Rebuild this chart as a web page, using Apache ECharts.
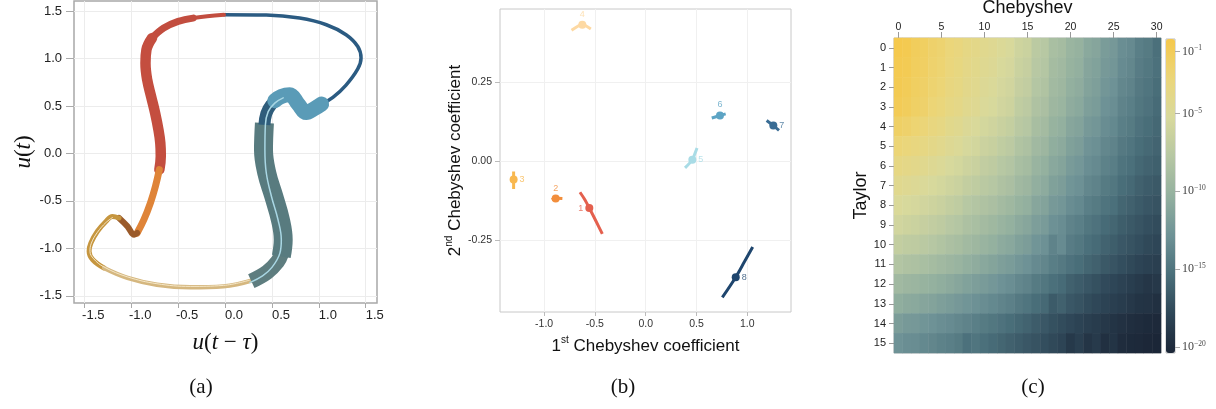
<!DOCTYPE html>
<html>
<head>
<meta charset="utf-8">
<script src="https://cdn.jsdelivr.net/npm/echarts@6/dist/echarts.min.js"></script>
<style>
html, body { margin: 0; padding: 0; background: #fff; }
#chart { width: 1216px; height: 409px; }
</style>
</head>
<body>
<div id="chart"></div>
<script>
// (a) phase portrait, [u(t - tau), u(t)] pairs per coloured stretch
const phaseTopRight = [[1.03, 0.52], [1.15, 0.59], [1.29, 0.72], [1.415, 0.89], [1.45, 1.004], [1.415, 1.126], [1.29, 1.25], [1.08, 1.355], [0.795, 1.425], [0.44, 1.457], [-0.011, 1.46]];
const phaseRedThin = [[-0.011, 1.46], [-0.19, 1.445], [-0.34, 1.425]];
const phaseRedMid = [[-0.34, 1.425], [-0.5, 1.39], [-0.654, 1.32], [-0.778, 1.215]];
const phaseRedThick = [[-0.778, 1.215], [-0.838, 1.09], [-0.848, 0.95], [-0.83, 0.776], [-0.788, 0.60], [-0.745, 0.425], [-0.71, 0.25], [-0.69, 0.109], [-0.685, -0.03], [-0.70, -0.17]];
const phaseOrange = [[-0.70, -0.17], [-0.742, -0.347], [-0.795, -0.52], [-0.866, -0.70], [-0.937, -0.838]];
const phaseBrown = [[-0.937, -0.838], [-0.968, -0.856], [-1.04, -0.768], [-1.13, -0.68]];
const phaseGold = [[-1.13, -0.68], [-1.2, -0.663], [-1.27, -0.716], [-1.36, -0.82], [-1.43, -0.943], [-1.449, -1.03], [-1.41, -1.12], [-1.29, -1.206]];
const phaseTan = [[-1.29, -1.206], [-1.04, -1.31], [-0.726, -1.382], [-0.37, -1.41], [-0.018, -1.40], [0.30, -1.335]];
const phaseTealTail = [[0.28, -1.345], [0.45, -1.25], [0.56, -1.14], [0.60, -1.06]];
const phaseTeal = [[0.60, -1.084], [0.62, -0.908], [0.59, -0.698], [0.52, -0.453], [0.445, -0.206], [0.41, 0.04], [0.42, 0.32]];
const phaseNavy = [[0.42, 0.30], [0.44, 0.42], [0.49, 0.51], [0.55, 0.56]];
const phaseSky = [[0.53, 0.555], [0.60, 0.60], [0.689, 0.618], [0.78, 0.52], [0.866, 0.43], [0.95, 0.47], [1.03, 0.52]];
const phaseTealCore = [[0.265, -1.36], [0.40, -1.29], [0.50, -1.20], [0.585, -1.05], [0.60, -0.908], [0.565, -0.698], [0.495, -0.453], [0.44, -0.206], [0.425, 0.04], [0.43, 0.30], [0.46, 0.44], [0.53, 0.53], [0.62, 0.585]];
const phaseTanCore = [[-1.2, -0.675], [-1.27, -0.728], [-1.36, -0.83], [-1.425, -0.945], [-1.44, -1.03], [-1.40, -1.11], [-1.29, -1.196], [-1.04, -1.30], [-0.726, -1.372], [-0.37, -1.40], [-0.018, -1.39], [0.26, -1.335]];

// (b) Chebyshev coefficient clusters
const coefNames = ['1', '2', '3', '4', '5', '6', '7', '8'];
const coefFirst = [-0.555, -0.886, -1.30, -0.624, 0.459, 0.731, 1.256, 0.886];
const coefSecond = [-0.149, -0.119, -0.059, 0.431, 0.004, 0.144, 0.112, -0.368];
const coefTracks = [
    [[-0.647, -0.099], [-0.6, -0.122], [-0.555, -0.149], [-0.49, -0.19], [-0.427, -0.231]],
    [[-0.925, -0.122], [-0.886, -0.118], [-0.82, -0.119]],
    [[-1.30, -0.033], [-1.30, -0.059], [-1.30, -0.089]],
    [[-0.73, 0.414], [-0.66, 0.428], [-0.624, 0.433], [-0.59, 0.428], [-0.54, 0.418]],
    [[0.387, -0.022], [0.459, 0.004], [0.49, 0.028], [0.505, 0.041]],
    [[0.65, 0.136], [0.731, 0.144], [0.787, 0.149]],
    [[1.19, 0.128], [1.256, 0.112], [1.312, 0.097]],
    [[0.754, -0.432], [0.886, -0.368], [0.97, -0.32], [1.053, -0.272]]
];
const coefColors = ['#e4604e', '#f28e3c', '#f8b850', '#fdd9a3', '#a9dce6', '#5da4c4', '#3a6d95', '#1f466e'];
const coefLabelPos = ['left', 'top', 'right', 'top', 'right', 'top', 'right', 'right'];

// (c) log10 error, rows = Taylor order, columns = Chebyshev order
const chebCats = Array.from({ length: 31 }, (_, i) => String(i));
const taylorCats = Array.from({ length: 16 }, (_, i) => String(i));
const errRow0 = [-0.3, -0.5, -1.1, -1.4, -1.9, -2.2, -2.7, -3.0, -3.5, -3.8, -4.2, -4.5, -4.9, -5.2, -6.0, -6.3, -7.4, -7.7, -8.7, -9.0, -9.8, -10.1, -10.9, -11.2, -12.0, -12.3, -13.1, -13.4, -14.2, -14.5, -15.3];
const errRow1 = [-0.5, -0.7, -1.2, -1.5, -2.0, -2.3, -2.9, -3.2, -3.7, -4.0, -4.4, -4.7, -5.2, -5.5, -6.3, -6.6, -7.6, -7.9, -9.0, -9.3, -10.0, -10.3, -11.2, -11.5, -12.2, -12.5, -13.3, -13.6, -14.4, -14.7, -15.2];
const errRow2 = [-0.6, -0.9, -1.4, -1.7, -2.2, -2.5, -3.1, -3.4, -3.9, -4.2, -4.7, -5.0, -5.5, -5.8, -6.6, -6.9, -7.9, -8.2, -9.2, -9.5, -10.3, -10.6, -11.4, -11.7, -12.5, -12.8, -13.6, -13.9, -14.6, -14.9, -15.4];
const errRow3 = [-0.8, -1.1, -1.6, -1.9, -2.5, -2.8, -3.4, -3.7, -4.2, -4.5, -5.0, -5.3, -5.8, -6.1, -7.0, -7.3, -8.3, -8.6, -9.5, -9.8, -10.6, -10.9, -11.7, -12.0, -12.8, -13.1, -13.9, -14.2, -14.8, -15.1, -15.6];
const errRow4 = [-1.6, -1.9, -2.3, -2.6, -3.1, -3.4, -4.0, -4.3, -4.8, -5.1, -5.6, -5.9, -6.4, -6.7, -7.5, -7.8, -8.8, -9.1, -10.0, -10.3, -11.1, -11.4, -12.2, -12.5, -13.2, -13.5, -14.2, -14.5, -15.1, -15.4, -15.8];
const errRow5 = [-2.5, -2.8, -3.1, -3.4, -3.8, -4.1, -4.6, -4.9, -5.4, -5.7, -6.2, -6.5, -7.0, -7.3, -8.1, -8.4, -9.3, -9.6, -10.5, -10.8, -11.6, -11.9, -12.7, -13.0, -13.6, -13.9, -14.6, -14.9, -15.4, -15.7, -16.0];
const errRow6 = [-3.4, -3.7, -3.9, -4.2, -4.6, -4.9, -5.3, -5.6, -6.1, -6.4, -6.9, -7.2, -7.7, -8.0, -8.7, -9.0, -9.9, -10.2, -11.0, -11.3, -12.1, -12.4, -13.1, -13.4, -14.0, -14.3, -15.0, -15.3, -15.8, -16.1, -16.3];
const errRow7 = [-4.2, -4.5, -4.7, -5.0, -5.3, -5.6, -6.0, -6.3, -6.8, -7.1, -7.5, -7.8, -8.3, -8.6, -9.3, -9.6, -10.4, -10.7, -11.6, -11.9, -12.6, -12.9, -13.6, -13.9, -14.5, -14.8, -15.4, -15.7, -16.2, -16.5, -16.7];
const errRow8 = [-5.0, -5.3, -5.5, -5.8, -6.1, -6.4, -6.8, -7.1, -7.7, -8.0, -8.3, -8.6, -9.1, -9.4, -10.0, -10.3, -11.1, -11.4, -12.2, -12.5, -13.2, -13.5, -14.2, -14.5, -15.0, -15.3, -15.9, -16.2, -16.6, -16.9, -17.1];
const errRow9 = [-5.8, -6.1, -6.3, -6.6, -6.9, -7.2, -7.6, -7.9, -8.4, -8.7, -9.1, -9.4, -9.9, -10.2, -10.8, -11.1, -11.8, -12.1, -12.9, -13.2, -13.9, -14.2, -14.8, -15.1, -15.6, -15.9, -16.4, -16.7, -17.0, -17.3, -17.5];
const errRow10 = [-6.8, -7.1, -7.2, -7.5, -7.8, -8.1, -8.5, -8.8, -9.2, -9.5, -9.9, -10.2, -10.7, -11.0, -11.6, -11.9, -12.6, -12.9, -13.9, -13.3, -14.4, -14.7, -15.3, -15.6, -16.1, -16.4, -16.8, -17.1, -17.4, -17.7, -17.9];
const errRow11 = [-8.0, -8.3, -8.4, -8.7, -9.0, -9.3, -9.6, -9.9, -10.3, -10.6, -11.0, -11.3, -11.7, -12.0, -12.5, -12.8, -13.4, -13.7, -14.3, -14.6, -15.1, -15.4, -15.9, -16.2, -16.7, -17.0, -17.4, -17.7, -18.0, -18.3, -18.4];
const errRow12 = [-9.3, -9.6, -9.7, -10.0, -10.2, -10.5, -10.8, -11.1, -11.5, -11.8, -12.1, -12.4, -12.8, -13.1, -13.6, -13.9, -14.5, -14.8, -15.3, -15.6, -16.2, -16.5, -16.9, -17.2, -17.6, -17.9, -18.2, -18.5, -18.8, -19.1, -19.0];
const errRow13 = [-10.5, -10.8, -10.9, -11.2, -11.4, -11.7, -12.0, -12.3, -12.6, -12.9, -13.2, -13.5, -13.8, -14.1, -14.6, -14.9, -15.4, -15.7, -16.6, -16.2, -16.8, -17.1, -17.5, -17.8, -18.1, -18.4, -18.7, -19.0, -19.3, -19.4, -19.6];
const errRow14 = [-11.9, -12.2, -12.3, -12.6, -12.8, -13.1, -13.3, -13.6, -13.9, -14.2, -14.5, -14.8, -15.1, -15.4, -15.8, -16.1, -16.5, -16.8, -17.2, -17.5, -17.8, -18.1, -18.4, -18.7, -19.0, -19.3, -19.5, -19.8, -19.9, -20.1, -20.2];
const errRow15 = [-12.8, -13.1, -13.2, -13.5, -13.7, -14.0, -14.2, -14.5, -15.2, -14.9, -15.3, -15.6, -15.9, -16.2, -16.5, -16.8, -17.1, -17.4, -17.7, -18.0, -18.9, -18.4, -19.2, -18.8, -19.6, -19.3, -19.9, -20.1, -20.2, -20.3, -20.4];
const errRows = [errRow0, errRow1, errRow2, errRow3, errRow4, errRow5, errRow6, errRow7, errRow8, errRow9, errRow10, errRow11, errRow12, errRow13, errRow14, errRow15];
const colorbarTicks = [-20, -15, -10, -5, -1];
const phaseTicks = [-1.5, -1, -0.5, 0, 0.5, 1, 1.5];

const sans = 'Liberation Sans';
const serif = 'Liberation Serif';

const heatData = [];
errRows.forEach((row, r) => row.forEach((v, c) => heatData.push([c, r, v])));

const phaseLine = (data, color, width, cap) => ({
    type: 'line', xAxisIndex: 0, yAxisIndex: 0, data: data,
    smooth: 0.4, symbol: 'none', silent: true,
    lineStyle: { color: color, width: width, cap: cap || 'round', join: 'round' }
});

const series = [
    {
        type: 'heatmap', xAxisIndex: 2, yAxisIndex: 2, data: heatData,
        itemStyle: { borderWidth: 0 }
    },
    phaseLine(phaseTopRight, '#2b5b82', 3.5),
    phaseLine(phaseRedThin, '#c24d3f', 4),
    phaseLine(phaseRedMid, '#c24d3f', 7),
    phaseLine(phaseRedThick, '#c44e3f', 10.5),
    phaseLine(phaseOrange, '#df8438', 7),
    phaseLine(phaseBrown, '#9a5a2a', 6),
    phaseLine(phaseGold, '#c6963f', 5),
    phaseLine(phaseTan, '#d5b77f', 4.5),
    phaseLine(phaseTanCore, '#f5e7c7', 1),
    phaseLine(phaseTealTail, '#5e7d7f', 15, 'butt'),
    phaseLine(phaseTeal, '#587b7f', 19, 'butt'),
    phaseLine(phaseNavy, '#2f5d7b', 12, 'butt'),
    phaseLine(phaseSky, '#5a9bb7', 15),
    phaseLine(phaseTealCore, '#a9d7e4', 1.5)
];

coefNames.forEach((name, i) => {
    series.push({
        type: 'line', xAxisIndex: 1, yAxisIndex: 1, data: coefTracks[i],
        smooth: 0.3, symbol: 'none', silent: true,
        lineStyle: { color: coefColors[i], width: 3 }
    });
    series.push({
        type: 'scatter', xAxisIndex: 1, yAxisIndex: 1,
        data: [[coefFirst[i], coefSecond[i]]],
        symbolSize: 8, itemStyle: { color: coefColors[i], opacity: 1 },
        label: {
            show: true, formatter: name, position: coefLabelPos[i], distance: 2,
            fontSize: 9, fontFamily: sans, color: coefColors[i], opacity: 0.8
        }
    });
});

const supRich = {
    n: { fontSize: 17, fontFamily: sans, color: '#111', lineHeight: 22 },
    s: { fontSize: 10, fontFamily: sans, color: '#111', verticalAlign: 'top', lineHeight: 12 }
};
const mathRich = {
    i: { fontSize: 23, fontFamily: serif, fontStyle: 'italic', color: '#111' },
    r: { fontSize: 23, fontFamily: serif, color: '#111' }
};

const option = {
    animation: false,
    title: [
        { text: '(a)', left: 196, top: 372, textAlign: 'center', textStyle: { fontFamily: serif, fontSize: 21, fontWeight: 'normal', color: '#111' } },
        { text: '(b)', left: 618, top: 372, textAlign: 'center', textStyle: { fontFamily: serif, fontSize: 21, fontWeight: 'normal', color: '#111' } },
        { text: '(c)', left: 1028, top: 372, textAlign: 'center', textStyle: { fontFamily: serif, fontSize: 21, fontWeight: 'normal', color: '#111' } }
    ],
    grid: [
        { left: 74, top: 1, width: 303, height: 302, show: true, borderColor: '#a8a8a8', borderWidth: 1.5, outerBoundsMode: 'none' },
        { left: 500, top: 9, width: 291, height: 303, show: true, borderColor: '#c8c8c8', borderWidth: 1, outerBoundsMode: 'none' },
        { left: 894, top: 38, width: 267, height: 315, show: true, borderColor: '#bdbdbd', borderWidth: 1, outerBoundsMode: 'none' },
        { left: 1166, top: 39, width: 9, height: 314, show: true, borderColor: '#bdbdbd', borderWidth: 1, outerBoundsMode: 'none' }
    ],
    xAxis: [
        {
            gridIndex: 0, type: 'value', min: -1.61, max: 1.62,
            axisLine: { show: false, onZero: false },
            axisTick: { show: true, length: 5, lineStyle: { color: '#aaa' }, customValues: phaseTicks },
            axisLabel: {
                customValues: phaseTicks, formatter: v => v.toFixed(1),
                fontSize: 13, fontFamily: sans, color: '#222', margin: 6, padding: [0, 0, 0, 18]
            },
            splitLine: { show: true, lineStyle: { color: '#ececec' } },
            name: '{i|u}{r|(}{i|t}{r| − }{i|τ}{r|)}', nameLocation: 'middle', nameGap: 28,
            nameTextStyle: { rich: mathRich }
        },
        {
            gridIndex: 1, type: 'value', min: -1.434, max: 1.43,
            axisLine: { show: false, onZero: false },
            axisTick: { show: true, length: 4, lineStyle: { color: '#bbb' }, customValues: [-1, -0.5, 0, 0.5, 1] },
            axisLabel: {
                customValues: [-1, -0.5, 0, 0.5, 1], formatter: v => v.toFixed(1),
                fontSize: 10.5, fontFamily: sans, color: '#333', margin: 7
            },
            splitLine: { show: true, lineStyle: { color: '#f0f0f0' } },
            name: '{n|1}{s|st}{n| Chebyshev coefficient}', nameLocation: 'middle', nameGap: 22,
            nameTextStyle: { rich: supRich }
        },
        {
            gridIndex: 2, type: 'category', data: chebCats, position: 'top',
            axisLine: { show: false },
            axisTick: { show: true, interval: 4, alignWithLabel: true, length: 6, lineStyle: { color: '#999' } },
            axisLabel: { interval: 4, fontSize: 10.5, fontFamily: sans, color: '#222', margin: 5 },
            splitLine: { show: false },
            name: 'Chebyshev', nameLocation: 'middle', nameGap: 13,
            nameTextStyle: { fontSize: 18, fontFamily: sans, color: '#111' }
        },
        { gridIndex: 3, type: 'value', show: false, min: 0, max: 1 }
    ],
    yAxis: [
        {
            gridIndex: 0, type: 'value', min: -1.575, max: 1.605,
            axisLine: { show: false, onZero: false },
            axisTick: { show: true, length: 8, lineStyle: { color: '#aaa' }, customValues: phaseTicks },
            axisLabel: {
                customValues: phaseTicks, formatter: v => v.toFixed(1),
                fontSize: 13, fontFamily: sans, color: '#222', margin: 12
            },
            splitLine: { show: true, lineStyle: { color: '#ececec' } },
            name: '{i|u}{r|(}{i|t}{r|)}', nameLocation: 'middle', nameGap: 37, nameRotate: 90,
            nameTextStyle: { rich: mathRich }
        },
        {
            gridIndex: 1, type: 'value', min: -0.478, max: 0.481,
            axisLine: { show: false, onZero: false },
            axisTick: { show: true, length: 5, lineStyle: { color: '#bbb' }, customValues: [-0.25, 0, 0.25] },
            axisLabel: {
                customValues: [-0.25, 0, 0.25], formatter: v => v.toFixed(2),
                fontSize: 10.5, fontFamily: sans, color: '#333', margin: 8
            },
            splitLine: { show: true, lineStyle: { color: '#f0f0f0' } },
            name: '{n|2}{s|nd}{n| Chebyshev coefficient}', nameLocation: 'middle', nameGap: 32, nameRotate: 90,
            nameTextStyle: { rich: supRich }
        },
        {
            gridIndex: 2, type: 'category', data: taylorCats, inverse: true,
            axisLine: { show: false },
            axisTick: { show: true, alignWithLabel: true, length: 5, lineStyle: { color: '#999' } },
            axisLabel: { fontSize: 11, fontFamily: sans, color: '#222', margin: 8 },
            splitLine: { show: false },
            name: 'Taylor', nameLocation: 'middle', nameGap: 22, nameRotate: 90,
            nameTextStyle: { fontSize: 18, fontFamily: sans, color: '#111' }
        },
        {
            gridIndex: 3, type: 'value', min: -20.4, max: -0.2, position: 'right',
            axisLine: { show: false, onZero: false },
            axisTick: { show: true, length: 5, lineStyle: { color: '#aaa' }, customValues: colorbarTicks },
            axisLabel: {
                customValues: colorbarTicks, margin: 7,
                formatter: v => '{b|10}{s|−' + (-v) + '}',
                rich: {
                    b: { fontSize: 12, fontFamily: serif, color: '#444', lineHeight: 14 },
                    s: { fontSize: 7.5, fontFamily: serif, color: '#444', verticalAlign: 'top', lineHeight: 9 }
                }
            },
            splitLine: { show: false }
        }
    ],
    visualMap: {
        type: 'continuous', seriesIndex: 0, min: -20.4, max: -0.2,
        orient: 'vertical', left: 1166, top: 39, itemWidth: 9, itemHeight: 314,
        calculable: false, text: null, padding: 0,
        inRange: { color: ['#1b2637', '#2e4657', '#4a6f7a', '#6e9296', '#93b09f', '#b6c7a3', '#d8d99c', '#ebd67a', '#f5c84b'] }
    },
    series: series
};

const myChart = echarts.init(document.getElementById('chart'));
myChart.setOption(option);
</script>
</body>
</html>
